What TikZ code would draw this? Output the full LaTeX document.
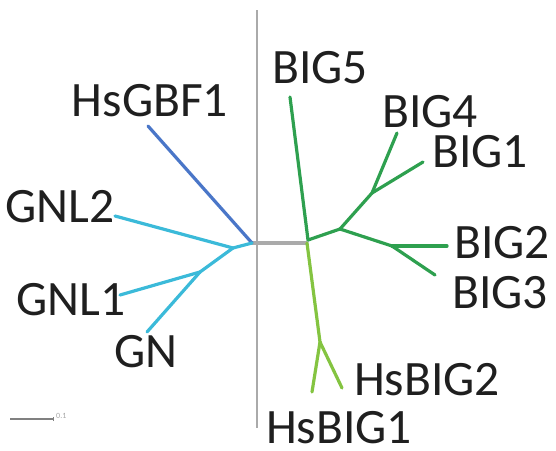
\documentclass[tikz,border=0pt]{standalone}
\usepackage{fontspec}
\setmainfont{Carlito}
\definecolor{cdblue}{HTML}{4A76C8}
\definecolor{ccyan}{HTML}{3BBAD9}
\definecolor{cgreen}{HTML}{2EA04F}
\definecolor{clgreen}{HTML}{84C441}
\definecolor{cgray}{HTML}{AAAAAA}
\tikzset{
  br/.style={line width=3.2pt, line cap=round, line join=round},
  lbl/.style={anchor=base, inner sep=0pt, font=\fontsize{49.5}{52}\selectfont, text=black!88}
}
\begin{document}
\begin{tikzpicture}[x=1pt,y=-1pt]
\useasboundingbox (0,0) rectangle (556,450);
% axis
\coordinate (ytop) at (257,10);
\coordinate (ybot) at (257,428);
\draw[cgray, line width=2pt] (ytop) -- (ybot);
% internal nodes
\coordinate (rootL) at (252,243);
\coordinate (rootR) at (307,243);
\coordinate (nG) at (233,248);
\coordinate (nGN) at (200,272);
\coordinate (nA) at (308,240);
\coordinate (nB) at (340,229);
\coordinate (nC) at (372,193);
\coordinate (nD) at (392,246);
\coordinate (nE) at (320,342);
% leaves
\coordinate (lHsGBF1) at (148,126);
\coordinate (lGNL2) at (115,216);
\coordinate (lGNL1) at (120,295);
\coordinate (lGN) at (147,332);
\coordinate (lBIG5) at (290,97);
\coordinate (lBIG4) at (397,133);
\coordinate (lBIG1) at (423,162);
\coordinate (lBIG2) at (447,246);
\coordinate (lBIG3) at (435,275);
\coordinate (lHsBIG1) at (312,392);
\coordinate (lHsBIG2) at (342,388);
% branches
\draw[br, cgray] (rootL) -- (rootR);
\draw[br, cdblue] (rootL) -- (lHsGBF1);
\draw[br, ccyan] (rootL) -- (nG);
\draw[br, ccyan] (nG) -- (lGNL2);
\draw[br, ccyan] (nG) -- (nGN);
\draw[br, ccyan] (nGN) -- (lGNL1);
\draw[br, ccyan] (nGN) -- (lGN);
\draw[br, clgreen] (rootR) -- (nE);
\draw[br, clgreen] (nE) -- (lHsBIG1);
\draw[br, clgreen] (nE) -- (lHsBIG2);
\draw[br, cgreen] (nA) -- (lBIG5);
\draw[br, cgreen] (nA) -- (nB);
\draw[br, cgreen] (nB) -- (nC);
\draw[br, cgreen] (nC) -- (lBIG4);
\draw[br, cgreen] (nC) -- (lBIG1);
\draw[br, cgreen] (nB) -- (nD);
\draw[br, cgreen] (nD) -- (lBIG2);
\draw[br, cgreen] (nD) -- (lBIG3);
% labels
\node[lbl] (tHsGBF1) at (150,116) {HsGBF1};
\node[lbl] (tGNL2) at (60,222) {GNL2};
\node[lbl] (tGNL1) at (71,315) {GNL1};
\node[lbl] (tGN) at (146,367) {GN};
\node[lbl] (tBIG5) at (320,83) {BIG5};
\node[lbl] (tBIG4) at (430,127) {BIG4};
\node[lbl] (tBIG1) at (480,167) {BIG1};
\node[lbl] (tBIG2) at (502,258) {BIG2};
\node[lbl] (tBIG3) at (500,308) {BIG3};
\node[lbl] (tHsBIG2) at (427,395) {HsBIG2};
\node[lbl] (tHsBIG1) at (339,443) {HsBIG1};
% scale bar
\coordinate (sb1) at (10,419);
\coordinate (sb2) at (53,419);
\draw[gray, line width=1.2pt] (sb1) -- (sb2);
\draw[gray, line width=0.8pt] ([yshift=-2]sb2) -- ([yshift=2]sb2);
\node[anchor=west, inner sep=0pt, font=\fontsize{8}{9}\selectfont, text=gray!70] (sbl) at (56,416) {0.1};
\end{tikzpicture}
\end{document}
